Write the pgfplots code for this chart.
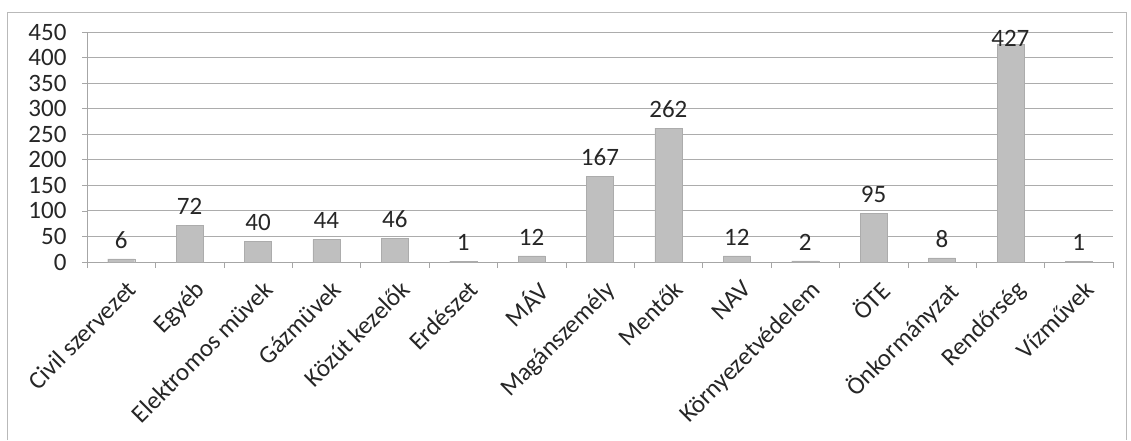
\documentclass[border=0pt]{standalone}
\usepackage{fontspec}
\setmainfont{Carlito}
\usepackage{pgfplots}
\pgfplotsset{compat=1.18}
\begin{document}
\begin{tikzpicture}[x=1pt,y=1pt]
\path[use as bounding box] (0,0) rectangle (1131,440);
\draw[gray!55, line width=0.8pt] (7,0) -- (7,428) -- (1126,428) -- (1126,0);
\begin{axis}[
  at={(87pt,178pt)}, anchor=south west,
  scale only axis, width=1026pt, height=230pt,
  xmin=-0.5, xmax=14.5, ymin=0, ymax=450,
  ytick={0,50,...,450},
  xtick={0,...,14},
  xticklabels={Civil szervezet,Egyéb,Elektromos müvek,Gázmüvek,Közút kezelők,Erdészet,MÁV,Magánszemély,Mentők,NAV,Környezetvédelem,ÖTE,Önkormányzat,Rendőrség,Vízművek},
  minor xtick={-0.5,0.5,...,14.5},
  axis lines*=left,
  axis line style={gray!70, line width=0.8pt},
  ymajorgrids, grid style={gray!65, line width=0.9pt},
  major x tick style={draw=none},
  minor x tick style={gray!70, line width=0.6pt},
  minor tick length=6pt,
  major y tick style={gray!70, line width=0.6pt},
  major tick length=5pt,
  tick align=outside,
  /pgf/number format/assume math mode=true,
  yticklabel style={font=\fontsize{25}{27}\selectfont, text=black!85, xshift=-12pt},
  xticklabel style={font=\fontsize{25}{27}\selectfont, text=black!85, rotate=45, anchor=north east, xshift=-2pt, yshift=-8pt},
  ybar, bar width=27pt, bar shift=0pt,
  nodes near coords,
  every node near coord/.append style={font=\fontsize{25}{27}\selectfont, text=black!85, yshift=7pt},
  clip=false,
]
\addplot[fill=gray!50, draw=gray!65] coordinates {
(0,6) (1,72) (2,40) (3,44) (4,46) (5,1) (6,12) (7,167) (8,262) (9,12) (10,2) (11,95) (12,8) (14,1)
};
\addplot[fill=gray!50, draw=gray!65, every node near coord/.append style={yshift=-13pt}] coordinates {
(13,427)
};
\end{axis}
\end{tikzpicture}
\end{document}
